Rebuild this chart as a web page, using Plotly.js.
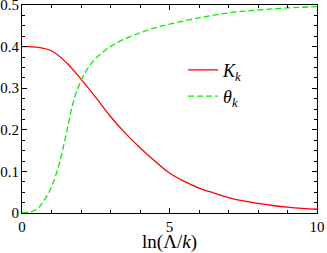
<!DOCTYPE html>
<html>
<head>
<meta charset="utf-8">
<script src="https://cdn.plot.ly/plotly-3.0.1.min.js"></script>
<style>html,body{margin:0;padding:0;background:#fff;}#chart{width:327px;height:253px;}</style>
</head>
<body>
<div id="chart"></div>
<script>
const xK = [0, 0.5, 1, 1.5, 2, 2.5, 3, 3.5, 4, 4.5, 5, 5.5, 6, 6.5, 7, 7.5, 8, 8.5, 9, 9.5, 10];
const K  = [0.4, 0.399, 0.39, 0.362, 0.322, 0.278, 0.232, 0.192, 0.157, 0.125, 0.096, 0.076, 0.060, 0.048, 0.037, 0.029, 0.023, 0.018, 0.014, 0.011, 0.009];
const xT = [0, 0.25, 0.5, 0.75, 1, 1.25, 1.5, 1.75, 2, 2.25, 2.5, 3, 3.5, 4, 4.5, 5, 6, 7, 8, 9, 10];
const theta = [0, 0.002, 0.009, 0.03, 0.063, 0.115, 0.19, 0.27, 0.318, 0.35, 0.372, 0.4, 0.419, 0.433, 0.445, 0.454, 0.469, 0.481, 0.488, 0.493, 0.496];
const xTicks = [0, 5, 10];
const yTicks = [0, 0.1, 0.2, 0.3, 0.4, 0.5];
const names = ['<i>K</i><sub><i>k</i></sub>', '<i>θ</i><sub><i>k</i></sub>'];

const serif = 'Liberation Serif, Times New Roman, serif';
const data = [
  {x: xK, y: K, name: names[0], mode: 'lines', line: {color: '#ff0000', width: 1.3, shape: 'spline'}},
  {x: xT, y: theta, name: names[1], mode: 'lines', line: {color: '#00ee00', width: 1.3, dash: '6px,3px', shape: 'spline'}}
];
const axisCommon = {
  showgrid: false, zeroline: false, showline: true, linecolor: '#000', linewidth: 1,
  mirror: 'ticks', ticks: 'inside', ticklen: 5, tickcolor: '#000', ticklabeloverflow: 'allow',
  tickfont: {family: serif, size: 15, color: '#000'}
};
const layout = {
  width: 327, height: 253,
  margin: {l: 22, r: 10, t: 5, b: 40},
  paper_bgcolor: '#fff', plot_bgcolor: '#fff',
  showlegend: true,
  legend: {x: 0.546, y: 0.776, xanchor: 'left', yanchor: 'top', bgcolor: 'rgba(0,0,0,0)',
           font: {family: serif, size: 18, color: '#000'}, tracegroupgap: 0},
  xaxis: Object.assign({}, axisCommon, {
    range: [0, 10], tickvals: xTicks, ticktext: xTicks.map(String),
    minor: {dtick: 1, ticklen: 3, ticks: 'inside', tickcolor: '#000'},
    title: {text: 'ln(Λ/<i>k</i>)', font: {family: serif, size: 19, color: '#000'}, standoff: 6}
  }),
  yaxis: Object.assign({}, axisCommon, {
    range: [0, 0.5], tickvals: yTicks, ticktext: yTicks.map(String), ticklabelstandoff: -1,
    minor: {dtick: 0.025, ticklen: 3, ticks: 'inside', tickcolor: '#000'}
  })
};
Plotly.newPlot('chart', data, layout, {staticPlot: true, displayModeBar: false});
</script>
</body>
</html>
